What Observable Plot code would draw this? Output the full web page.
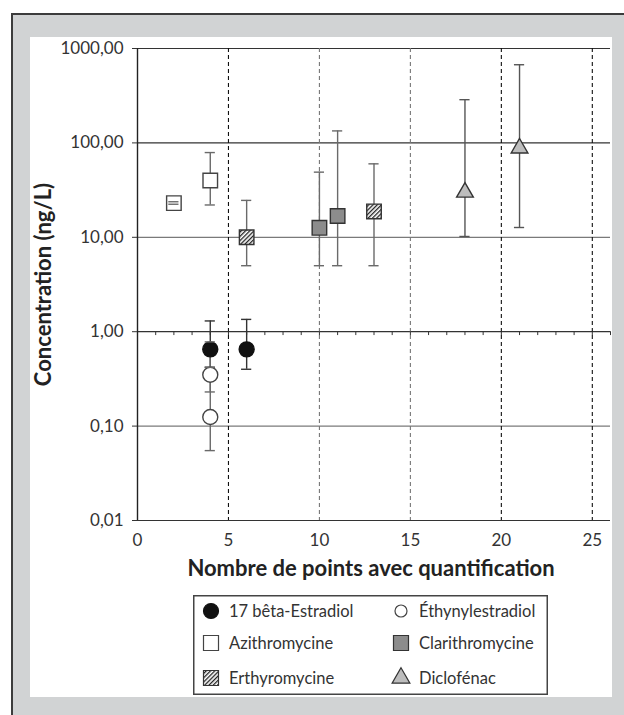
<!DOCTYPE html>
<html>
<head>
<meta charset="utf-8">
<script src="https://cdn.jsdelivr.net/npm/d3@7"></script>
<script src="https://cdn.jsdelivr.net/npm/@observablehq/plot@0.6"></script>
<style>
  html, body { margin: 0; padding: 0; width: 624px; height: 715px; overflow: hidden; background: #fff; font-family: Lato, "Open Sans", sans-serif; }
  #outer { position: absolute; left: 11px; top: 13px; width: 620px; height: 710px; background: #d1d3d4; border-left: 2px solid #3c3c3c; border-top: 2px solid #3c3c3c; }
  #panel { position: absolute; left: 30px; top: 37px; width: 582px; height: 660px; background: #fff; }
  #chart { position: absolute; left: 0; top: 0; }
  #legend { position: absolute; left: 193px; top: 595px; }
</style>
</head>
<body>
<div id="outer"></div>
<div id="panel"></div>
<div id="chart"></div>
<div id="legend"></div>
<script>
// ---- data ----
const seriesNames = ["17 bêta-Estradiol", "Éthynylestradiol", "Azithromycine", "Clarithromycine", "Erthyromycine", "Diclofénac"];

const estradiolX  = [4, 6];
const estradiolY  = [0.65, 0.65];
const estradiolLo = [0.42, 0.40];
const estradiolHi = [1.30, 1.35];

const ethinylX  = [4, 4];
const ethinylY  = [0.35, 0.125];
const ethinylLo = [0.23, 0.055];
const ethinylHi = [0.78, 0.42];

const azithroX  = [2, 4];
const azithroY  = [23, 40];
const azithroLo = [22.4, 22];
const azithroHi = [23.8, 79];

const clarithroX  = [10, 11];
const clarithroY  = [12.6, 16.8];
const clarithroLo = [5, 5];
const clarithroHi = [49, 134];

const erythroX  = [6, 13];
const erythroY  = [10, 18.8];
const erythroLo = [5, 5];
const erythroHi = [24.6, 60];

const diclofenacX  = [18, 21];
const diclofenacY  = [30, 88];
const diclofenacLo = [10.2, 12.7];
const diclofenacHi = [287, 673];

const yTicks = [0.01, 0.1, 1, 10, 100, 1000];
const xTicks = [0, 5, 10, 15, 20, 25];
const xMinorTicks = d3.range(1, 27);
const xDomain = [0, 26];
const yDomain = [0.01, 1000];

// ---- build table ----
function rows(name, xs, ys, lo, hi) {
  return xs.map((x, i) => ({series: name, x, y: ys[i], lo: lo[i], hi: hi[i]}));
}
const data = [
  ...rows(seriesNames[0], estradiolX, estradiolY, estradiolLo, estradiolHi),
  ...rows(seriesNames[1], ethinylX, ethinylY, ethinylLo, ethinylHi),
  ...rows(seriesNames[2], azithroX, azithroY, azithroLo, azithroHi),
  ...rows(seriesNames[3], clarithroX, clarithroY, clarithroLo, clarithroHi),
  ...rows(seriesNames[4], erythroX, erythroY, erythroLo, erythroHi),
  ...rows(seriesNames[5], diclofenacX, diclofenacY, diclofenacLo, diclofenacHi)
];

const style = {
  "17 bêta-Estradiol": {symbol: "circle", fill: "#111", stroke: "#111", r: 7.5, err: "#333"},
  "Éthynylestradiol":  {symbol: "circle", fill: "#fff", stroke: "#444", r: 7.5, err: "#6a6a6a"},
  "Azithromycine":     {symbol: "square", fill: "#fff", stroke: "#444", r: 8.2, err: "#6a6a6a"},
  "Clarithromycine":   {symbol: "square", fill: "#8c8c8c", stroke: "#333", r: 8.2, err: "#6a6a6a"},
  "Erthyromycine":     {symbol: "square", fill: "url(#hatch)", stroke: "#333", r: 8.2, err: "#6a6a6a"},
  "Diclofénac":        {symbol: "triangle", fill: "#bdbdbd", stroke: "#333", r: 6.2, err: "#555"}
};

const fmt = d => d.toFixed(2).replace(".", ",");
const capHalf = 0.28;

const markerMarks = seriesNames.map(name => Plot.dot(data.filter(d => d.series === name), {
  x: "x", y: "y", symbol: () => style[name].symbol, r: style[name].r,
  fill: style[name].fill, stroke: style[name].stroke, strokeWidth: 1.4
}));

const plot = Plot.plot({
  width: 624,
  height: 590,
  marginLeft: 137,
  marginRight: 14,
  marginTop: 48,
  marginBottom: 70,
  style: {fontFamily: "Lato, 'Open Sans', sans-serif", fontSize: "17px", color: "#333", background: "transparent"},
  x: {type: "linear", domain: xDomain},
  y: {type: "log", domain: yDomain},
  symbol: {type: "identity"},
  marks: [
    // horizontal grid lines
    Plot.ruleY(yTicks.filter(v => v === 0.1 || v === 10), {stroke: "#7a7a7a", strokeWidth: 1.2}),
    Plot.ruleY(yTicks.filter(v => !(v === 0.1 || v === 10)), {stroke: "#333", strokeWidth: 1.2}),
    // vertical dashed grid lines
    Plot.ruleX(xTicks.filter(v => v > 0), {stroke: v => (v === 10 || v === 15) ? "#777" : "#111", strokeDasharray: "4,3", strokeWidth: 1.1}),
    // left axis line
    Plot.ruleX(xTicks.filter(v => v === 0), {stroke: "#222", strokeWidth: 1.4}),
    // minor ticks on the axis crossing at 1
    Plot.ruleX(xMinorTicks, {y1: 1, y2: 0.91, stroke: "#333", strokeWidth: 1}),
    // error bar stems
    Plot.ruleX(data, {x: "x", y1: "lo", y2: "hi", stroke: d => style[d.series].err, strokeWidth: 1.4}),
    // markers
    ...markerMarks,
    // error bar caps
    Plot.ruleY(data, {y: "lo", x1: d => d.x - capHalf, x2: d => d.x + capHalf, stroke: d => style[d.series].err, strokeWidth: 1.4}),
    Plot.ruleY(data, {y: "hi", x1: d => d.x - capHalf, x2: d => d.x + capHalf, stroke: d => style[d.series].err, strokeWidth: 1.4}),
    // axes
    Plot.axisY({ticks: yTicks, tickFormat: fmt, tickSize: 5, tickPadding: 9, label: null, fontSize: 17, fill: "#333", stroke: "#333"}),
    Plot.axisX({ticks: xTicks, tickFormat: d => String(d), tickSize: 0, tickPadding: 13, label: null, fontSize: 17, fill: "#333"}),
    // axis titles
    Plot.text(["Nombre de points avec quantification"], {frameAnchor: "bottom", dy: 48, dx: -3, textAnchor: "middle", lineAnchor: "middle", fontWeight: "bold", fontSize: 22, fill: "#222"}),
    Plot.text(["Concentration (ng/L)"], {frameAnchor: "left", dx: -94, rotate: -90, textAnchor: "middle", lineAnchor: "middle", fontWeight: "bold", fontSize: 22, fill: "#222"})
  ]
});

// hatch pattern definition
const svg = d3.select(plot);
const defs = svg.insert("defs", ":first-child");
function addHatch(sel, id) {
  const p = sel.append("pattern").attr("id", id).attr("patternUnits", "userSpaceOnUse")
    .attr("width", 3).attr("height", 3).attr("patternTransform", "rotate(45)");
  p.append("rect").attr("width", 3).attr("height", 3).attr("fill", "#fff");
  p.append("line").attr("x1", 0.6).attr("y1", 0).attr("x2", 0.6).attr("y2", 3).attr("stroke", "#222").attr("stroke-width", 1.4);
}
addHatch(defs, "hatch");
document.getElementById("chart").appendChild(plot);

// ---- legend ----
const lw = 355, lh = 100;
const lsvg = d3.select("#legend").append("svg").attr("width", lw + 2).attr("height", lh + 2)
  .style("font-family", "Lato, 'Open Sans', sans-serif");
addHatch(lsvg.append("defs"), "hatchL");
lsvg.append("rect").attr("x", 0.75).attr("y", 0.75).attr("width", lw - 1.5).attr("height", lh - 1.5)
  .attr("fill", "#fff").attr("stroke", "#444").attr("stroke-width", 1.5);
const colX = [18, 208];
const rowY = [16, 48, 83];
seriesNames.forEach((name, i) => {
  const cx = colX[i % 2], cy = rowY[Math.floor(i / 2)];
  const s = style[name];
  let shape, size;
  if (s.symbol === "circle") { shape = d3.symbolCircle; size = name === "17 bêta-Estradiol" ? Math.PI * 7.5 * 7.5 : Math.PI * 6 * 6; }
  else if (s.symbol === "square") { shape = d3.symbolSquare; size = 15 * 15; }
  else { shape = d3.symbolTriangle; size = Math.PI * 6.6 * 6.6; }
  lsvg.append("path").attr("transform", `translate(${cx},${cy})`)
    .attr("d", d3.symbol(shape, size)())
    .attr("fill", s.fill === "url(#hatch)" ? "url(#hatchL)" : s.fill)
    .attr("stroke", s.stroke).attr("stroke-width", 1.2);
  lsvg.append("text").attr("x", cx + 18).attr("y", cy).attr("dy", "0.35em")
    .attr("font-size", 16.5).attr("fill", "#333").text(name);
});
</script>
</body>
</html>
